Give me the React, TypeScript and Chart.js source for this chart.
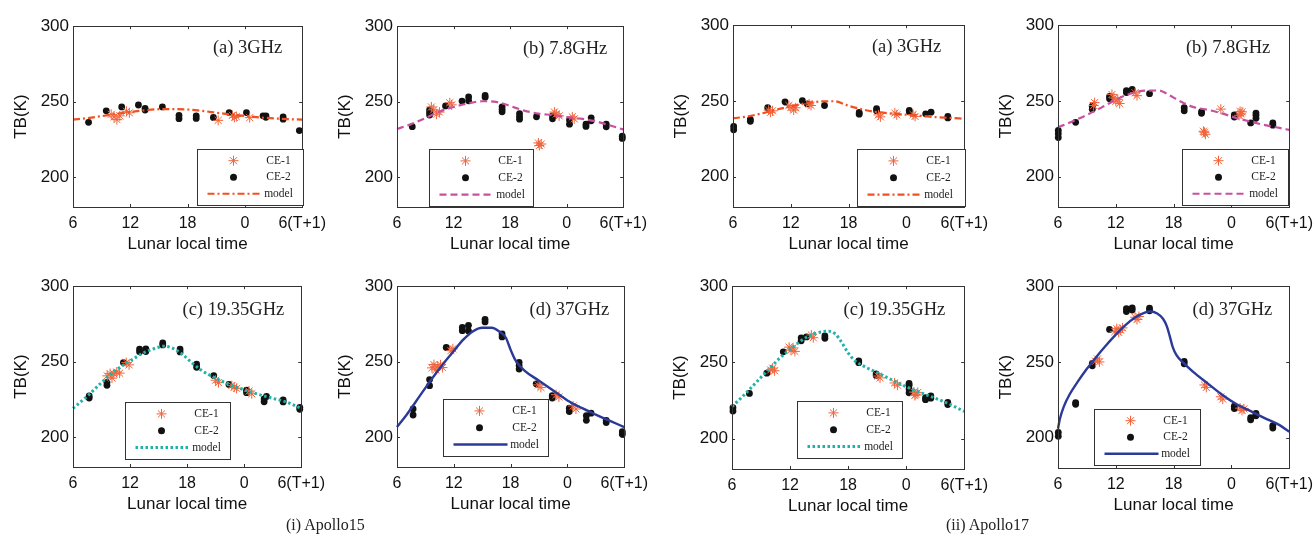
import React, { useEffect, useRef } from 'react';
import { Chart, registerables } from 'chart.js';

Chart.register(...registerables);

// ---------- axis ticks / labels ----------
const X_TICKS = [6, 12, 18, 24, 30];
const X_TICK_LABELS = ['6', '12', '18', '0', '6(T+1)'];
const Y_TICKS = [200, 250, 300];
const X_TITLE = 'Lunar local time';
const Y_TITLE = 'TB(K)';
const SERIES_LABELS = ['CE-1', 'CE-2', 'model'];
const PANEL_TITLES = ['(a) 3GHz', '(b) 7.8GHz', '(c) 19.35GHz', '(d) 37GHz'];
const CAPTIONS = ['(i) Apollo15', '(ii) Apollo17'];

// ---------- Apollo15 ----------
const A15_3_CE1 = [[10.0,241.5],[10.3,239.8],[10.6,238.0],[10.9,240.5],[11.6,243.5],[11.9,242.5],[21.2,237.5],[22.7,240.8],[22.9,239.5],[23.1,240.0],[24.5,239.3]];
const A15_3_CE2 = [[7.63,236.2],[9.48,243.8],[11.1,246.4],[12.85,247.7],[13.55,245.5],[13.55,244.3],[15.36,246.4],[17.1,240.8],[17.1,238.6],[18.9,240.5],[18.9,238.8],[20.7,239.4],[22.35,242.7],[24.16,242.7],[25.9,240.5],[26.2,240.5],[26.2,239.5],[28.0,239.8],[28.0,238.3],[29.7,230.7]];
const A15_3_MODEL = [[6,238],[7.5,239],[9,240.3],[10.5,241.8],[12,243],[13.5,244.2],[15,244.9],[16.5,245],[18,244.7],[19.5,243.8],[21,242.6],[22.5,241.4],[24,240.4],[25.5,239.5],[27,238.8],[28.5,238.3],[30,238]];

const A15_78_CE1 = [[9.65,246.4],[9.9,244.5],[10.2,241.6],[10.5,243],[11.6,249.2],[11.8,247.8],[21.0,222.5],[21.1,220.8],[21.3,221.8],[22.7,243],[22.9,241.8],[23.2,240.5],[24.6,239.8],[24.8,238.5]];
const A15_78_CE2 = [[7.62,233.3],[9.46,241],[9.46,244.5],[9.46,242.8],[11.15,247.1],[12.9,250.3],[13.6,250.5],[13.6,253],[15.35,254],[15.35,252.8],[17.15,243.2],[17.15,246.5],[17.15,244.8],[19.0,238.3],[19.0,242],[19.0,240],[20.8,239.9],[22.5,238.5],[22.5,240.5],[24.3,235],[24.3,237.8],[26.05,233.5],[26.05,235],[26.6,237.2],[26.6,239.2],[28.2,233.2],[28.2,235],[29.9,225.5],[29.9,227]];
const A15_78_MODEL = [[6,231.8],[7.5,235],[9,239],[10.5,243.3],[12,246.4],[13.5,248.7],[15,250.2],[16.5,249.8],[18,247],[19.5,244],[21,242],[22.5,241],[24,239.6],[25.5,238.6],[27,237],[28.5,234.3],[30,231.5]];

const A15_19_CE1 = [[9.6,240.5],[9.9,242],[10.1,239],[10.3,241.8],[10.6,243],[10.9,242.3],[11.6,249.3],[11.9,247.8],[21.0,237.6],[21.3,236],[22.7,234],[22.95,233],[23.2,232.2],[24.5,230.4],[24.8,228.6]];
const A15_19_CE2 = [[7.7,225.8],[7.7,227.2],[9.57,234.2],[9.57,236.2],[11.3,249.3],[13.0,256.5],[13.0,258.3],[13.66,256.6],[13.66,258.4],[15.44,261],[15.44,262.3],[17.26,256.4],[17.26,258.3],[19.0,246.2],[19.0,248.3],[20.8,240.7],[22.4,234.8],[24.25,229.3],[24.25,231],[26.1,223.3],[26.1,225.2],[26.35,226.8],[28.1,223.2],[28.1,224.5],[29.85,218.3],[29.85,219.6]];
const A15_19_MODEL = [[6,218.9],[7.5,227],[9,236],[10.5,244.2],[12,250.4],[13.5,256],[15,259.5],[15.5,260.2],[16.5,258.8],[17.5,254.8],[18.5,249.2],[19.5,244.2],[21,239],[22.5,234.6],[24,231.3],[25.5,228.2],[27,225.6],[28.5,223],[30,218.9]];

const A15_37_CE1 = [[9.7,245.8],[9.9,248],[10.1,244.5],[10.3,246.8],[10.6,247.8],[10.8,246],[11.7,257.2],[11.9,258.5],[20.9,234.5],[21.2,232.8],[22.8,228],[23.1,226.5],[24.6,220.5],[24.9,218.5]];
const A15_37_CE2 = [[7.7,214.5],[7.7,218.5],[9.44,234],[9.44,238],[11.2,259.3],[12.9,270.5],[12.9,272.6],[13.55,270.3],[13.55,274],[15.3,276.3],[15.3,278],[17.1,266.3],[17.1,268.3],[18.9,245],[18.9,249.5],[18.9,247.3],[20.7,235.2],[22.4,225.8],[22.4,227.3],[24.2,216.8],[24.2,219],[26.0,211],[26.0,214],[26.5,215.7],[28.1,209.5],[28.1,211],[29.8,201.8],[29.8,203.4]];
const A15_37_MODEL = [[6,206.5],[7,214.5],[8,223.5],[9,232.5],[10,241.2],[11,249.4],[12,257],[13,264.5],[14,270],[15,272.4],[16,272.4],[16.8,270],[17.5,265.8],[18,257.8],[18.5,251],[19.5,243.8],[21,237.3],[22.5,230.8],[24,224.2],[25.5,219.2],[27,214.8],[28.5,210.6],[30,206.5]];

// ---------- Apollo17 ----------
const A17_3_CE1 = [[9.7,244],[9.9,242.5],[10.1,243.5],[11.8,247],[12.0,245.6],[12.3,244],[12.5,245.5],[13.9,248],[14.1,247],[21.1,240.8],[21.3,239.5],[22.8,242],[23.0,240.8],[24.7,241],[24.9,239.8]];
const A17_3_CE2 = [[6.07,231],[6.07,233.2],[7.8,236.6],[7.8,237.8],[9.6,245.5],[11.4,249.4],[13.2,250.2],[13.7,248.1],[15.5,247],[19.1,241.3],[19.1,242.4],[20.9,243.6],[20.9,245],[24.3,242.8],[24.3,243.8],[26.0,241.5],[26.56,242.6],[28.3,238.8],[28.3,239.8]];
const A17_3_MODEL = [[6,238.5],[7.5,239.8],[9,241.8],[10.5,244.2],[12,246.5],[13.5,248.4],[15,249.6],[16.5,249.8],[18,246.8],[19.5,244.3],[21,242.6],[22.5,241.6],[24,240.9],[25.5,240.2],[27,239.3],[28.5,238.8],[30,238.3]];

const A17_78_CE1 = [[9.7,247],[9.8,248.9],[11.6,254.3],[11.8,252],[12.0,249.8],[12.2,251],[12.4,248.3],[14.0,255.4],[14.2,253.5],[21.1,230],[21.2,229.3],[21.3,228],[22.9,244.6],[24.8,240.5],[24.9,243],[25.0,241.5],[25.1,242.8]];
const A17_78_CE2 = [[6.03,225.8],[6.03,228.3],[6.03,230.5],[7.83,235.9],[9.56,244.6],[9.56,246.5],[11.35,251.5],[11.35,253],[13.1,255.5],[13.1,256.8],[13.7,257.6],[15.5,254.8],[19.1,243.5],[19.1,245.5],[20.9,241.8],[20.9,243],[24.3,239.4],[24.3,240.8],[26.0,235.5],[26.55,238.5],[26.55,240.5],[26.55,242],[28.3,234],[28.3,235.5]];
const A17_78_MODEL = [[6,232.6],[7.5,236.5],[9,240.8],[10.5,245.6],[12,250.8],[13.5,254.8],[15,256.8],[16.5,256.9],[17.5,254],[18.5,250.4],[20,246.1],[21.5,244.2],[23,241.8],[24.5,238.8],[26,236.3],[27.5,234],[29,232.2],[30,230.9]];

const A17_19_CE1 = [[10.0,245],[10.2,246.2],[10.4,244.5],[11.9,260],[12.1,258],[12.3,259.5],[12.5,257.2],[14.2,268],[14.4,266.2],[21.1,241],[21.3,239.8],[22.8,236.5],[23.1,235],[24.8,230.5],[24.9,228.2],[25.0,229],[25.2,230.3]];
const A17_19_CE2 = [[6.1,218],[6.1,220.2],[7.8,229.6],[9.6,242.9],[11.3,256.9],[13.15,264.2],[13.15,266],[13.7,266.7],[15.6,265.8],[15.6,267.3],[19.1,249.8],[19.1,251],[20.9,241.3],[20.9,242.5],[24.3,230],[24.3,232.5],[24.3,235],[24.3,236.2],[26.0,225.5],[26.0,226.8],[26.55,226.5],[26.55,228],[28.3,222.3],[28.3,223.8]];
const A17_19_MODEL = [[6,221],[7,227],[8,233.5],[9,240.2],[10,246.7],[11,253.2],[12,258.5],[13,263.6],[14,267.5],[15,269.7],[16,270.4],[16.7,268.5],[17.3,263.5],[18,256.3],[18.7,251],[19.5,247.9],[21,243.2],[22.5,238.6],[24,234],[25.5,230.1],[27,226.5],[28.5,222.5],[30,217.8]];

const A17_37_CE1 = [[9.9,250.5],[10.1,252],[10.3,250],[11.9,270],[12.1,272],[12.3,269.5],[12.5,271],[12.7,272.5],[14.0,279.5],[14.2,278],[14.4,280],[21.2,234.8],[21.4,233.2],[22.9,227],[23.1,225.5],[24.9,219.5],[25.1,218],[25.3,219]];
const A17_37_CE2 = [[6.03,201],[6.03,203.5],[7.83,222],[7.83,223.2],[9.56,247.5],[9.56,249],[11.35,271.5],[13.1,283.3],[13.1,285.2],[13.7,284.3],[13.7,285.6],[15.5,283.8],[15.5,285.5],[19.1,248.8],[19.1,250.4],[24.3,219.2],[24.3,220.8],[26.0,211.8],[26.0,213.2],[26.55,214.5],[26.55,216],[28.3,206.4],[28.3,208]];
const A17_37_MODEL = [[6,206],[6.2,212.5],[6.6,220.5],[7.2,228.5],[8,236.5],[9,245.5],[10,253.5],[11,261],[12,268],[13,274.3],[14,279.3],[15,282.6],[15.6,283.3],[16.3,282],[16.9,278.5],[17.3,273.5],[17.6,267],[17.9,260],[18.3,254.5],[19,249.5],[20,243.6],[21.5,236],[23,228.5],[24.5,222.2],[26,217.5],[27.5,212.8],[29,208.3],[30,203.9]];

// ---------- styles / layout ----------
const MODEL_STYLES = [
  { color: '#f2501f', dash: [7, 3, 2, 3], width: 2.2 },
  { color: '#c8509f', dash: [7, 4], width: 2.2 },
  { color: '#1fb3a7', dash: [2.5, 2.5], width: 3 },
  { color: '#2b3a98', dash: [], width: 2.4 },
];
const CE1_COLOR = '#f0643c';
const CE2_COLOR = '#111111';
const SANS = "'Liberation Sans', Arial, sans-serif";
const SERIF = "'Liberation Serif', 'Times New Roman', serif";

const PANELS = [
  { L: 73, R: 303, T: 24, B: 207, leg: [124, 123, 106, 56], tr: 20, ty: 22, title: 0, ce1: A15_3_CE1, ce2: A15_3_CE2, model: A15_3_MODEL },
  { L: 397, R: 624, T: 24, B: 207, leg: [32, 123, 104, 57], tr: 16, ty: 23, title: 1, ce1: A15_78_CE1, ce2: A15_78_CE2, model: A15_78_MODEL },
  { L: 73, R: 302, T: 284, B: 467, leg: [52, 116, 105, 57], tr: 17, ty: 24, title: 2, ce1: A15_19_CE1, ce2: A15_19_CE2, model: A15_19_MODEL },
  { L: 397, R: 625, T: 284, B: 467, leg: [46, 113, 105, 57], tr: 15, ty: 24, title: 3, ce1: A15_37_CE1, ce2: A15_37_CE2, model: A15_37_MODEL },
  { L: 733, R: 965, T: 23, B: 207, leg: [124, 124, 108, 57], tr: 23, ty: 22, title: 0, ce1: A17_3_CE1, ce2: A17_3_CE2, model: A17_3_MODEL },
  { L: 1058, R: 1290, T: 23, B: 207, leg: [124, 124, 106, 56], tr: 19, ty: 23, title: 1, ce1: A17_78_CE1, ce2: A17_78_CE2, model: A17_78_MODEL },
  { L: 732, R: 965, T: 284, B: 469, leg: [65, 115, 105, 57], tr: 19, ty: 24, title: 2, ce1: A17_19_CE1, ce2: A17_19_CE2, model: A17_19_MODEL },
  { L: 1058, R: 1290, T: 284, B: 468, leg: [36, 123, 106, 56], tr: 17, ty: 24, title: 3, ce1: A17_37_CE1, ce2: A17_37_CE2, model: A17_37_MODEL },
];

const PAD_LEFT = 72;
const PAD_TOP = 12;
const PAD_RIGHT = 30;
const PAD_BOTTOM = 50;

const toXY = (arr: number[][]) => arr.map(([x, y]) => ({ x, y }));

function drawStar(ctx: CanvasRenderingContext2D, x: number, y: number, r: number) {
  ctx.beginPath();
  for (let k = 0; k < 4; k++) {
    const a = (k * Math.PI) / 4;
    ctx.moveTo(x - r * Math.cos(a), y - r * Math.sin(a));
    ctx.lineTo(x + r * Math.cos(a), y + r * Math.sin(a));
  }
  ctx.stroke();
}

const decorPlugin = {
  id: 'decor',
  afterDatasetsDraw(chart: any, _args: any, opts: any) {
    const { ctx, chartArea: ca, scales } = chart;
    ctx.save();
    // frame
    ctx.strokeStyle = '#333';
    ctx.lineWidth = 1;
    ctx.setLineDash([]);
    ctx.strokeRect(Math.round(ca.left) + 0.5, Math.round(ca.top) + 0.5, Math.round(ca.right - ca.left), Math.round(ca.bottom - ca.top));
    // inside ticks
    const tl = 3;
    ctx.beginPath();
    X_TICKS.forEach((v) => {
      const px = Math.round(scales.x.getPixelForValue(v)) + 0.5;
      ctx.moveTo(px, ca.bottom); ctx.lineTo(px, ca.bottom - tl);
      ctx.moveTo(px, ca.top); ctx.lineTo(px, ca.top + tl);
    });
    Y_TICKS.forEach((v) => {
      const py = Math.round(scales.y.getPixelForValue(v)) + 0.5;
      ctx.moveTo(ca.left, py); ctx.lineTo(ca.left + tl, py);
      ctx.moveTo(ca.right, py); ctx.lineTo(ca.right - tl, py);
    });
    ctx.stroke();
    // panel title
    ctx.fillStyle = '#222';
    ctx.font = `18.5px ${SERIF}`;
    ctx.textAlign = 'right';
    ctx.textBaseline = 'middle';
    ctx.fillText(opts.title, ca.right - opts.tr, ca.top + opts.ty);
    // legend
    const [lx, ly, lw, lh] = opts.leg;
    const bx = Math.round(ca.left + lx) + 0.5;
    const by = Math.round(ca.top + ly) + 0.5;
    ctx.fillStyle = '#ffffff';
    ctx.fillRect(bx, by, lw, lh);
    ctx.strokeStyle = '#333';
    ctx.lineWidth = 1;
    ctx.strokeRect(bx, by, lw, lh);
    const r1 = by + lh * 0.2, r2 = by + lh * 0.495, r3 = by + lh * 0.79;
    ctx.strokeStyle = CE1_COLOR;
    ctx.lineWidth = 1;
    drawStar(ctx, bx + 36, r1, 5);
    ctx.fillStyle = CE2_COLOR;
    ctx.beginPath();
    ctx.arc(bx + 36, r2, 3.5, 0, Math.PI * 2);
    ctx.fill();
    const ms = opts.modelStyle;
    ctx.strokeStyle = ms.color;
    ctx.lineWidth = ms.width;
    ctx.setLineDash(ms.dash);
    ctx.beginPath();
    ctx.moveTo(bx + 10, r3);
    ctx.lineTo(bx + 64, r3);
    ctx.stroke();
    ctx.setLineDash([]);
    ctx.fillStyle = '#222';
    ctx.font = `11.5px ${SERIF}`;
    ctx.textAlign = 'center';
    ctx.textBaseline = 'middle';
    ctx.fillText(SERIES_LABELS[0], bx + 81, r1);
    ctx.fillText(SERIES_LABELS[1], bx + 81, r2);
    ctx.fillText(SERIES_LABELS[2], bx + 81, r3);
    ctx.restore();
  },
};

function Panel({ p }: { p: any }) {
  const ref = useRef<HTMLCanvasElement | null>(null);
  const W = p.R - p.L + PAD_LEFT + PAD_RIGHT;
  const H = p.B - p.T + PAD_TOP + PAD_BOTTOM;
  useEffect(() => {
    if (!ref.current) return;
    const ms = MODEL_STYLES[p.title];
    const chart = new Chart(ref.current, {
      type: 'scatter',
      data: {
        datasets: [
          {
            type: 'line',
            label: SERIES_LABELS[2],
            data: toXY(p.model),
            borderColor: ms.color,
            borderWidth: ms.width,
            borderDash: ms.dash,
            pointRadius: 0,
            fill: false,
            cubicInterpolationMode: 'monotone',
            clip: false,
          } as any,
          {
            label: SERIES_LABELS[0],
            data: toXY(p.ce1),
            pointStyle: 'star',
            pointRadius: 5,
            borderColor: CE1_COLOR,
            backgroundColor: CE1_COLOR,
            pointBorderWidth: 1,
            clip: false,
          } as any,
          {
            label: SERIES_LABELS[1],
            data: toXY(p.ce2),
            pointStyle: 'circle',
            pointRadius: 3.4,
            borderWidth: 0,
            backgroundColor: CE2_COLOR,
            borderColor: CE2_COLOR,
            clip: false,
          } as any,
        ],
      },
      options: {
        animation: false,
        responsive: false,
        devicePixelRatio: 1,
        events: [],
        layout: { padding: { left: 0, top: PAD_TOP, right: PAD_RIGHT, bottom: 0 } },
        plugins: {
          legend: { display: false },
          tooltip: { enabled: false },
          decor: { title: PANEL_TITLES[p.title], tr: p.tr, ty: p.ty, leg: p.leg, modelStyle: ms },
        } as any,
        scales: {
          x: {
            type: 'linear',
            min: 6,
            max: 30,
            afterBuildTicks: (s: any) => { s.ticks = X_TICKS.map((v) => ({ value: v })); },
            afterFit: (s: any) => { s.height = PAD_BOTTOM; },
            grid: { display: false, drawTicks: false },
            border: { display: false },
            ticks: {
              padding: 7,
              autoSkip: false,
              maxRotation: 0,
              color: '#111',
              font: { family: SANS, size: 16 },
              callback: (v: any) => X_TICK_LABELS[X_TICKS.indexOf(Number(v))],
            },
            title: { display: true, text: X_TITLE, color: '#111', font: { family: SANS, size: 17 }, padding: { top: 0, bottom: 2 } },
          },
          y: {
            type: 'linear',
            min: 180,
            max: 300,
            afterBuildTicks: (s: any) => { s.ticks = Y_TICKS.map((v) => ({ value: v })); },
            afterFit: (s: any) => { s.width = PAD_LEFT; },
            grid: { display: false, drawTicks: false },
            border: { display: false },
            ticks: { padding: 4, color: '#111', font: { family: SANS, size: 17 } },
            title: { display: true, text: Y_TITLE, color: '#111', font: { family: SANS, size: 17 }, padding: { top: 10, bottom: 0 } },
          },
        },
      } as any,
      plugins: [decorPlugin],
    });
    return () => chart.destroy();
  }, []);
  return (
    <canvas
      ref={ref}
      width={W}
      height={H}
      style={{ position: 'absolute', left: p.L - PAD_LEFT, top: p.T - PAD_TOP, width: W, height: H }}
    />
  );
}

export default function App() {
  return (
    <div style={{ position: 'absolute', left: 0, top: 0, width: 1315, height: 534, background: '#fff', overflow: 'hidden' }}>
      {PANELS.map((p, i) => (
        <Panel key={i} p={p} />
      ))}
      <div style={{ position: 'absolute', left: 286, top: 516, fontFamily: SERIF, fontSize: 16, lineHeight: '18px', color: '#222', whiteSpace: 'nowrap' }}>{CAPTIONS[0]}</div>
      <div style={{ position: 'absolute', left: 946, top: 516, fontFamily: SERIF, fontSize: 16, lineHeight: '18px', color: '#222', whiteSpace: 'nowrap' }}>{CAPTIONS[1]}</div>
    </div>
  );
}
